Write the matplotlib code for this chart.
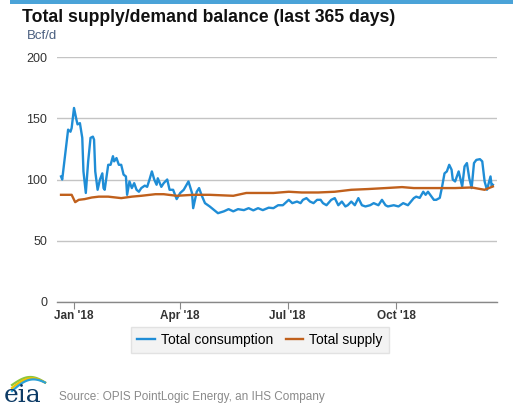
import numpy as np
import pandas as pd
import matplotlib
matplotlib.use('Agg')
import matplotlib.pyplot as plt
from matplotlib.lines import Line2D

plt.rcParams['font.family'] = ['Liberation Sans', 'DejaVu Sans']

# Total consumption, Bcf/d
cons_dates = [
    '2017-12-21', '2017-12-22', '2017-12-27', '2017-12-29', '2017-12-30',
    '2018-01-01', '2018-01-03', '2018-01-04', '2018-01-06', '2018-01-08',
    '2018-01-09', '2018-01-11', '2018-01-13', '2018-01-15', '2018-01-17',
    '2018-01-18', '2018-01-19', '2018-01-21', '2018-01-23', '2018-01-25',
    '2018-01-26', '2018-01-27', '2018-01-30', '2018-02-01', '2018-02-03',
    '2018-02-04', '2018-02-06', '2018-02-08', '2018-02-10', '2018-02-12',
    '2018-02-14', '2018-02-15', '2018-02-17', '2018-02-19', '2018-02-21',
    '2018-02-23', '2018-02-25', '2018-02-27', '2018-03-02', '2018-03-04',
    '2018-03-06', '2018-03-08', '2018-03-10', '2018-03-12', '2018-03-13',
    '2018-03-16', '2018-03-18', '2018-03-21', '2018-03-23', '2018-03-26',
    '2018-03-29', '2018-04-01', '2018-04-04', '2018-04-08', '2018-04-11',
    '2018-04-12', '2018-04-15', '2018-04-17', '2018-04-19', '2018-04-22',
    '2018-04-26', '2018-05-01', '2018-05-03', '2018-05-08', '2018-05-12',
    '2018-05-16', '2018-05-20', '2018-05-25', '2018-05-29', '2018-06-02',
    '2018-06-06', '2018-06-10', '2018-06-15', '2018-06-19', '2018-06-23',
    '2018-06-27', '2018-07-02', '2018-07-05', '2018-07-09', '2018-07-12',
    '2018-07-14', '2018-07-17', '2018-07-20', '2018-07-23', '2018-07-26',
    '2018-07-29', '2018-07-31', '2018-08-03', '2018-08-07', '2018-08-10',
    '2018-08-13', '2018-08-16', '2018-08-19', '2018-08-21', '2018-08-24',
    '2018-08-27', '2018-08-30', '2018-09-02', '2018-09-05', '2018-09-09',
    '2018-09-12', '2018-09-16', '2018-09-19', '2018-09-22', '2018-09-24',
    '2018-09-29', '2018-10-03', '2018-10-07', '2018-10-11', '2018-10-16',
    '2018-10-18', '2018-10-21', '2018-10-24', '2018-10-26', '2018-10-28',
    '2018-10-31', '2018-11-02', '2018-11-04', '2018-11-07', '2018-11-09',
    '2018-11-11', '2018-11-13', '2018-11-15', '2018-11-17', '2018-11-18',
    '2018-11-20', '2018-11-23', '2018-11-24', '2018-11-26', '2018-11-28',
    '2018-11-30', '2018-12-02', '2018-12-04', '2018-12-06', '2018-12-08',
    '2018-12-11', '2018-12-13', '2018-12-15', '2018-12-17', '2018-12-20',
    '2018-12-21', '2018-12-22',
]
cons_values = [
    102.5, 100, 140.7, 139, 142,
    158.4, 149, 145, 146, 134,
    106.6, 89, 114.8, 134, 135,
    132.5, 106.6, 91.6, 100, 105,
    93, 91.6, 112, 112, 119,
    114.8, 117.5, 112, 112, 104,
    102.5, 87.5, 98.4, 93, 97,
    91.6, 90, 93, 95, 94,
    100, 106.6, 100, 95.7, 101,
    94, 97, 100, 91.6, 91.6,
    84, 89, 91.6, 98.4, 89,
    76.6, 90, 93, 87.5, 80.7,
    78, 74, 72.5, 74, 75.8,
    74, 75.8, 75, 76.6, 74.8,
    76.6, 75, 77, 76.6, 79,
    79, 83.4, 80.7, 82, 80.7,
    83.4, 84.8, 82, 80.7, 83.4,
    83.4, 80.7, 79, 83.4, 84.8,
    79, 82, 78, 79, 82,
    79, 84.8, 79, 78, 79,
    80.7, 79, 83.4, 79, 78,
    79, 78, 80.7, 79, 84.8,
    86, 85, 90, 87.5, 90,
    86, 83.4, 83.4, 85, 94.3,
    105, 106.6, 112, 108, 100,
    98.4, 106.6, 102.5, 94.3, 110.7,
    113.4, 101, 93, 113.4, 116,
    116.6, 114.8, 98.4, 91.6, 102.5,
    94.3, 95.7,
]

# Total supply, Bcf/d
supply_dates = [
    '2017-12-21', '2017-12-30', '2018-01-02', '2018-01-05', '2018-01-10',
    '2018-01-16', '2018-01-22', '2018-01-30', '2018-02-10', '2018-02-19',
    '2018-02-27', '2018-03-11', '2018-03-18', '2018-03-29', '2018-04-12',
    '2018-04-26', '2018-05-16', '2018-05-27', '2018-06-08', '2018-06-19',
    '2018-07-02', '2018-07-13', '2018-07-27', '2018-08-10', '2018-08-24',
    '2018-09-07', '2018-09-22', '2018-10-06', '2018-10-16', '2018-10-23',
    '2018-11-06', '2018-11-20', '2018-12-04', '2018-12-15', '2018-12-22',
]
supply_values = [
    87.5, 87.5, 81.5, 83.4, 84,
    85.3, 86, 86, 84.8, 86,
    86.7, 88, 88, 86.7, 87.5,
    87.5, 86.7, 89, 89, 89,
    90, 89.4, 89.4, 90, 91.6,
    92.2, 93, 93.8, 93, 93,
    93, 93, 93.5, 91.6, 94.3,
]

y_ticks = [0, 50, 100, 150, 200]
x_ticks = ['2018-01-01', '2018-04-01', '2018-07-01', '2018-10-01']
x_labels = ["Jan '18", "Apr '18", "Jul '18", "Oct '18"]

blue = '#1f8dd6'
orange = '#c0601c'

fig = plt.figure(figsize=(5.23, 4.07), dpi=100)
ax = fig.add_axes([57 / 523, 1 - 302 / 407, 440 / 523, 245 / 407])

ax.plot(pd.to_datetime(cons_dates), cons_values, color=blue, lw=1.7,
        solid_joinstyle='round', zorder=3)
ax.plot(pd.to_datetime(supply_dates), supply_values, color=orange, lw=1.7,
        solid_joinstyle='round', zorder=3)

ax.set_ylim(0, 200)
ax.set_xlim(pd.Timestamp('2017-12-17 14:00'), pd.Timestamp('2018-12-25 12:00'))
ax.set_yticks(y_ticks)
ax.set_xticks(pd.to_datetime(x_ticks))
ax.set_xticklabels(x_labels, fontsize=8.5, fontweight='bold', color='#333333')
ax.tick_params(axis='y', length=0, pad=7, labelsize=9, labelcolor='#333333')
ax.tick_params(axis='x', length=5, color='#888888', pad=1)

ax.grid(axis='y', color='#c4c4c4', lw=1)
ax.set_axisbelow(True)
for s in ['top', 'right', 'left']:
    ax.spines[s].set_visible(False)
ax.spines['bottom'].set_color('#888888')
ax.spines['bottom'].set_linewidth(1)

# top bar and titles
fig.add_artist(plt.Rectangle((10 / 523, 1 - 4 / 407), 503 / 523, 4 / 407,
                             transform=fig.transFigure, color='#4aa3d8', lw=0))
fig.text(22 / 523, 1 - 17 / 407, 'Total supply/demand balance (last 365 days)',
         fontsize=12.7, fontweight='bold', color='#111111', va='center')
fig.text(27 / 523, 1 - 36 / 407, 'Bcf/d', fontsize=9.5, color='#4a5f80', va='center')

# legend
handles = [Line2D([], [], color=blue, lw=1.7), Line2D([], [], color=orange, lw=1.7)]
leg = fig.legend(handles, ['Total consumption', 'Total supply'], ncol=2,
                 loc='center', bbox_to_anchor=(260 / 523, 1 - 340 / 407),
                 fontsize=10, frameon=True, fancybox=False, handlelength=1.25,
                 handletextpad=0.45, columnspacing=0.9, borderpad=0.45)
leg.get_frame().set_facecolor('#f0f0f0')
leg.get_frame().set_edgecolor('#dddddd')

# eia logo and source
fig.text(4 / 523, 1 - 395 / 407, 'eia', fontsize=18, family='DejaVu Serif',
         color='#0d3b66', va='center')
t = np.linspace(0, 1, 30)
for col, dy in [('#8dc63f', 0), ('#f2c200', 3), ('#2aa0d8', 6)]:
    xs = (12 + 33 * t) / 523
    ys = 1 - (385 - 8 * np.sin(np.pi * t * 0.9) + dy * (1 - t)) / 407
    fig.add_artist(Line2D(xs, ys, color=col, lw=1.6, transform=fig.transFigure))
fig.text(59 / 523, 1 - 397 / 407, 'Source: OPIS PointLogic Energy, an IHS Company',
         fontsize=8.5, color='#8a8a8a', va='center')

fig.savefig('out.png', dpi=100)
